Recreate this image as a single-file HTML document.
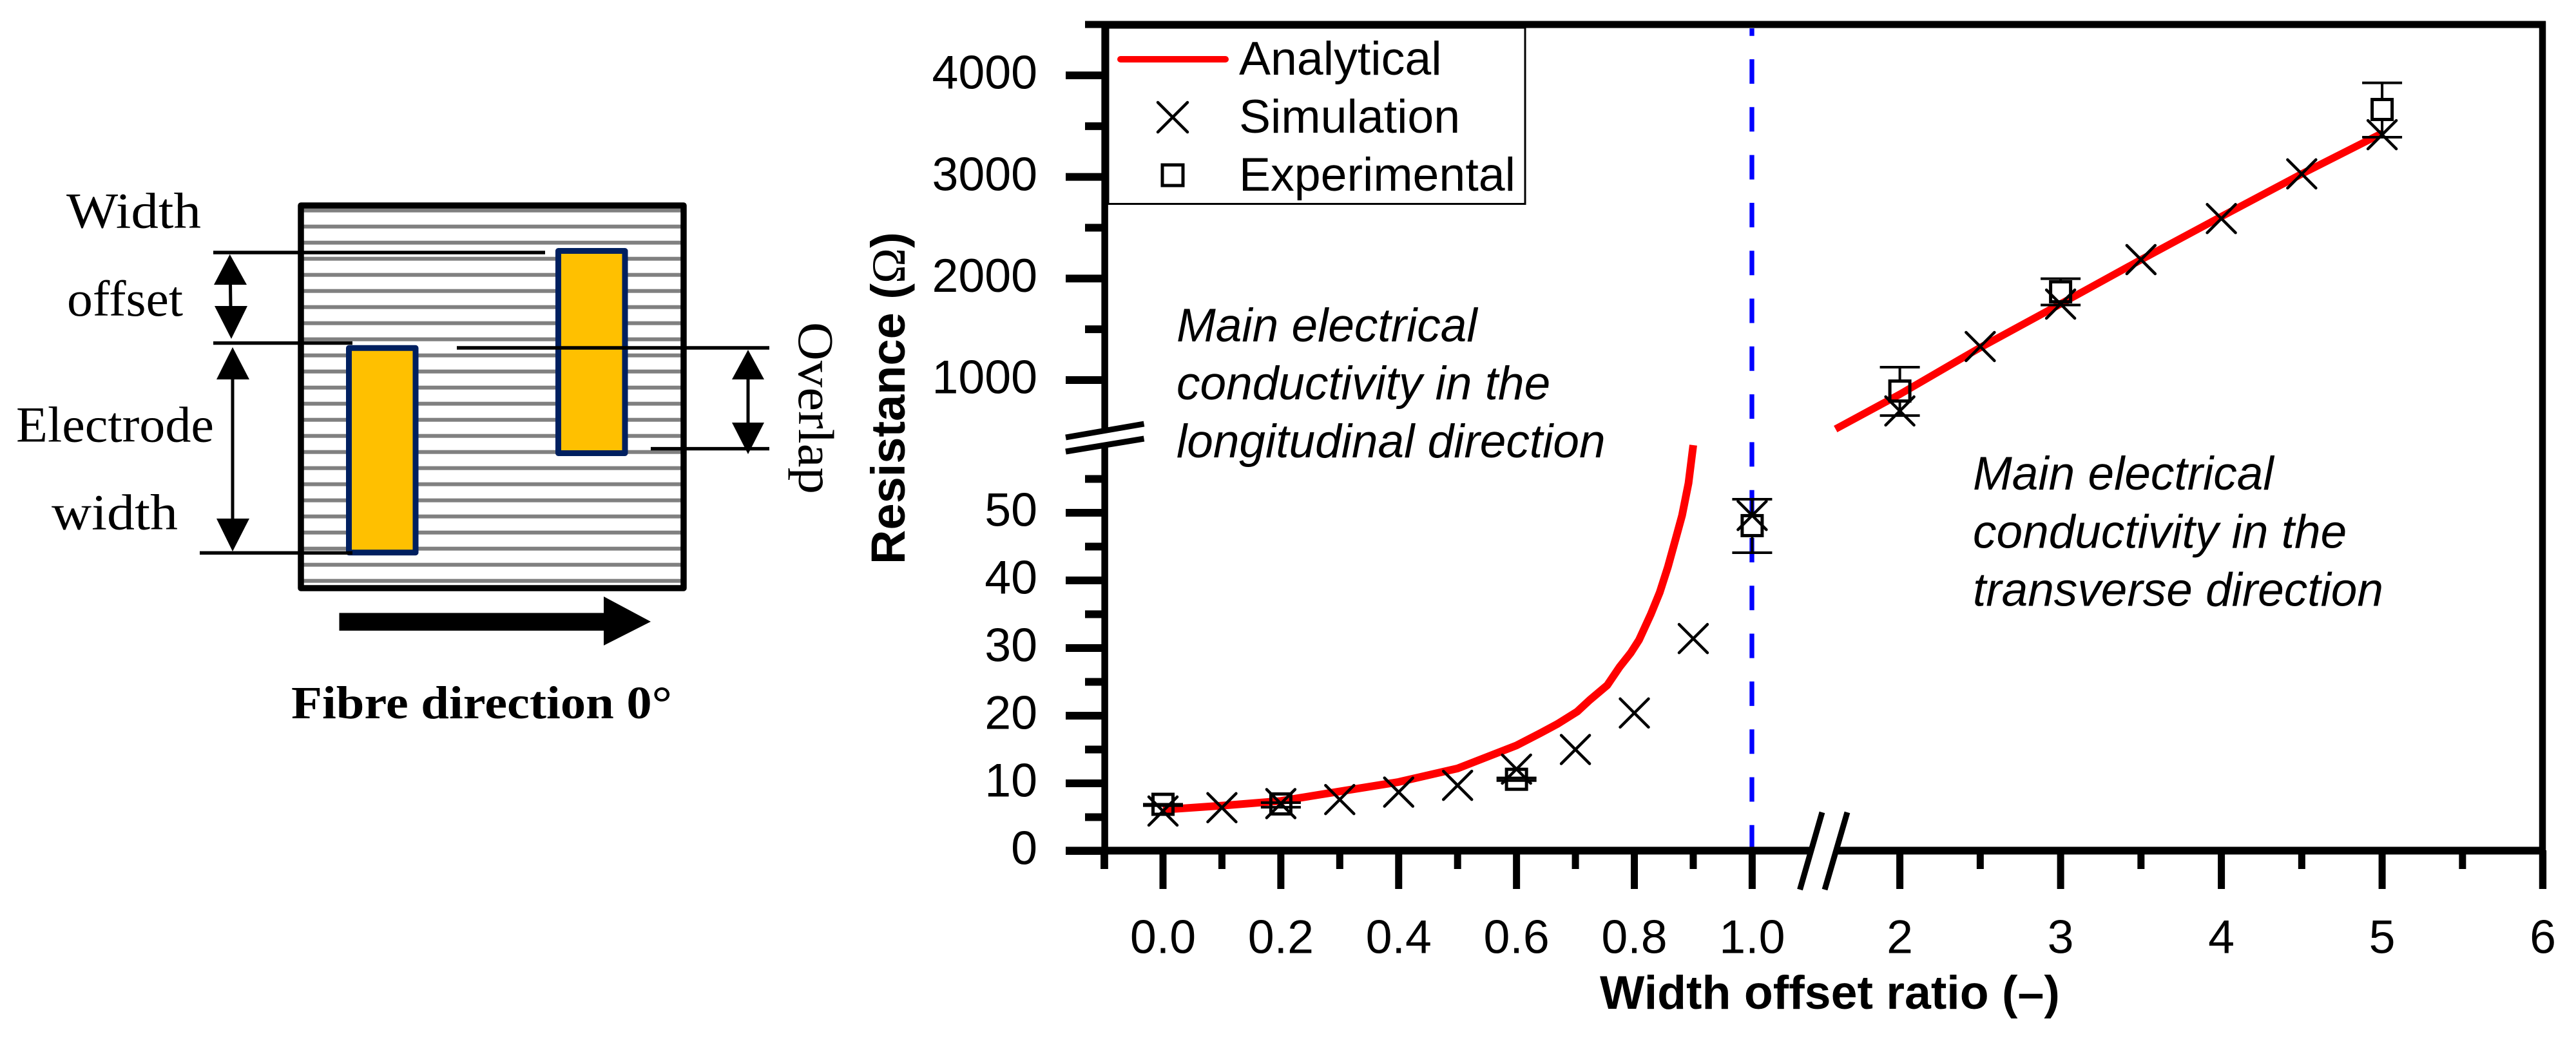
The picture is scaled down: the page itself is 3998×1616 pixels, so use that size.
<!DOCTYPE html>
<html lang="en">
<head>
<meta charset="utf-8">
<title>Resistance versus width offset ratio</title>
<style>
html,body{margin:0;padding:0;background:#fff;width:3998px;height:1616px;overflow:hidden}
svg{display:block}
text{font-family:"Liberation Sans",Arial,sans-serif;fill:#000}
.serif{font-family:"Liberation Serif","Times New Roman",serif}
</style>
</head>
<body>
<svg id="figure" xmlns="http://www.w3.org/2000/svg" width="3998" height="1616" viewBox="0 0 3998 1616">
  <rect x="0" y="0" width="3998" height="1616" fill="#fff"/>

  <g id="diagram">
    <g id="stripes"></g>
    <rect x="467" y="319" width="594" height="594" fill="none" stroke="#000" stroke-width="9.5" stroke-linejoin="round"/>
    <rect x="541.5" y="540.3" width="103.5" height="317.4" fill="#FFC000" stroke="#002060" stroke-width="9" stroke-linejoin="round"/>
    <rect x="866.5" y="389.5" width="103.5" height="314" fill="#FFC000" stroke="#002060" stroke-width="9" stroke-linejoin="round"/>
    <g stroke="#000" stroke-width="5.4">
      <line x1="331" y1="392" x2="846" y2="392"/>
      <line x1="331" y1="532.6" x2="547" y2="532.6"/>
      <line x1="310" y1="858.3" x2="547" y2="858.3"/>
      <line x1="709" y1="540" x2="1194" y2="540"/>
      <line x1="1010" y1="696.6" x2="1194" y2="696.6"/>
    </g>
    <g>
      <line x1="357.5" y1="440" x2="358" y2="478" stroke="#000" stroke-width="5"/>
      <polygon points="356.7,394.8 332,442 383,442"/>
      <polygon points="359,526 333,475 384,475"/>
    </g>
    <g>
      <line x1="361" y1="587" x2="361" y2="807" stroke="#000" stroke-width="5"/>
      <polygon points="361,539 336,589 387,589"/>
      <polygon points="361,856 336,805 387,805"/>
    </g>
    <g>
      <line x1="1161" y1="587" x2="1161" y2="658" stroke="#000" stroke-width="5"/>
      <polygon points="1161,543 1136,589 1186,589"/>
      <polygon points="1161,705 1136,656 1186,656"/>
    </g>
    <polygon points="526.5,951.5 937,951.5 937,926 1010,965 937,1002 937,979 526.5,979"/>
    <text class="serif" x="103" y="353.5" font-size="78" textLength="209" lengthAdjust="spacingAndGlyphs">Width</text>
    <text class="serif" x="104" y="490" font-size="78" textLength="180" lengthAdjust="spacingAndGlyphs">offset</text>
    <text class="serif" x="25" y="685.7" font-size="78" textLength="307" lengthAdjust="spacingAndGlyphs">Electrode</text>
    <text class="serif" x="80" y="821.5" font-size="78" textLength="196" lengthAdjust="spacingAndGlyphs">width</text>
    <text class="serif" transform="translate(1240,500) rotate(90)" font-size="78" textLength="267" lengthAdjust="spacingAndGlyphs">Overlap</text>
    <text class="serif" x="452" y="1115" font-size="72" font-weight="bold" textLength="591" lengthAdjust="spacingAndGlyphs">Fibre direction 0°</text>
  </g>

  <g id="chart">
    <line id="ref-line" x1="2719" y1="44" x2="2719" y2="1320" stroke="#0000ff" stroke-width="7.3" stroke-dasharray="38 36.3" stroke-dashoffset="26.3"/>
    <g id="series-analytical"></g>
    <g id="series-experimental"></g>
    <g id="series-simulation"></g>
    <g id="axes">
      <line x1="1684" y1="38" x2="3951" y2="38" stroke="#000" stroke-width="11"/>
      <line x1="3946" y1="33" x2="3946" y2="1380" stroke="#000" stroke-width="10.5"/>
      <line x1="1714.6" y1="33" x2="1714.6" y2="1349" stroke="#000" stroke-width="10.5"/>
      <line x1="1654" y1="1320.5" x2="3951" y2="1320.5" stroke="#000" stroke-width="12"/>
    </g>
    <g id="y-ticks"></g>
    <g id="x-ticks"></g>
    <g>
      <polygon points="1654,679 1775.5,658 1775.5,681 1654,701" fill="#fff"/>
      <line x1="1654" y1="679" x2="1775.5" y2="658" stroke="#000" stroke-width="9"/>
      <line x1="1654" y1="701" x2="1775.5" y2="681" stroke="#000" stroke-width="9"/>
    </g>
    <g>
      <polygon points="2793.5,1381 2828,1261 2867,1261 2832,1381" fill="#fff"/>
      <line x1="2793.5" y1="1381" x2="2828" y2="1261" stroke="#000" stroke-width="9"/>
      <line x1="2832" y1="1381" x2="2867" y2="1261" stroke="#000" stroke-width="9"/>
    </g>
    <text transform="translate(1404,876) rotate(-90)" font-size="74" font-weight="bold">Resistance (<tspan class="serif" font-weight="normal">Ω</tspan>)</text>
    <text x="2483" y="1566" font-size="73.5" font-weight="bold">Width offset ratio (–)</text>

    <g font-size="73" font-style="italic">
      <text x="1826" y="530">Main electrical</text>
      <text x="1826" y="620">conductivity in the</text>
      <text x="1826" y="710">longitudinal direction</text>
    </g>
    <g font-size="73" font-style="italic">
      <text x="3062" y="760">Main electrical</text>
      <text x="3062" y="850.5">conductivity in the</text>
      <text x="3062" y="940.5">transverse direction</text>
    </g>

    <g>
      <rect x="1720" y="43" width="647" height="273.5" fill="#fff" stroke="#000" stroke-width="3"/>
      <line x1="1739" y1="92" x2="1902" y2="92" stroke="#ff0000" stroke-width="10" stroke-linecap="round"/>
      <text x="1923" y="116" font-size="73.5">Analytical</text>
      <path d="M1797 159L1843 205M1843 159L1797 205" stroke="#000" stroke-width="4.5" stroke-linecap="round" fill="none"/>
      <text x="1923" y="206" font-size="73.5">Simulation</text>
      <rect x="1804" y="256" width="32" height="32" fill="none" stroke="#000" stroke-width="5"/>
      <text x="1923" y="296" font-size="73.5">Experimental</text>
    </g>
  </g>
</svg>

<script>
// Chart data
const analyticalLowX = [0, 0.1, 0.2, 0.3, 0.4, 0.5, 0.6, 0.64, 0.67, 0.703, 0.724, 0.754, 0.775, 0.794, 0.808, 0.828, 0.843, 0.857, 0.87, 0.881, 0.892, 0.9];
const analyticalLowY = [6.1, 6.7, 7.4, 8.8, 10.2, 12.2, 15.6, 17.4, 18.8, 20.6, 22.3, 24.5, 27.2, 29.3, 31.2, 35, 38.2, 42, 46.1, 49.6, 54.4, 60];
const analyticalHighX = [1.6, 2, 2.5, 3, 3.5, 4, 4.5, 5];
const analyticalHighY = [518, 860, 1320, 1750, 2185, 2610, 3030, 3430];
const simulationX = [0, 0.1, 0.2, 0.3, 0.4, 0.5, 0.6, 0.7, 0.8, 0.9, 1.0, 2, 2.5, 3, 3.5, 4, 4.5, 5];
const simulationY = [5.9, 6.4, 7, 7.6, 8.7, 9.7, 12.1, 15, 20.4, 31.4, 49.6, 696, 1330, 1748, 2186, 2590, 3030, 3416];
const experimentalX = [0, 0.2, 0.6, 1.0, 2, 3, 5];
const experimentalY = [6.9, 6.95, 10.6, 48.1, 892, 1869, 3664];
const experimentalLow = [6.7, 6.47, 10.4, 44.1, 650, 1739, 3391];
const experimentalHigh = [6.9, 7.14, 10.8, 52, 1127, 1998, 3926];
const yMajorLow = [0, 10, 20, 30, 40, 50];
const yMinorLow = [5, 15, 25, 35, 45, 55];
const yMajorHigh = [1000, 2000, 3000, 4000];
const yMinorHigh = [1500, 2500, 3500];
const xMajorLow = [0, 0.2, 0.4, 0.6, 0.8, 1.0];
const xMinorLow = [-0.1, 0.1, 0.3, 0.5, 0.7, 0.9];
const xMajorHigh = [2, 3, 4, 5, 6];
const xMinorHigh = [2.5, 3.5, 4.5, 5.5];

// Broken axis functions
function xPos(v) {
  return v <= 1.2 ? 1805 + v * 914.4 : 2948.6 + (v - 2) * 249.5;
}
function yPos(v) {
  return v <= 100 ? 1321 - v * 10.5 : 590 - (v - 1000) * 0.15767;
}

const NS = 'http://www.w3.org/2000/svg';
function make(parent, tag, attrs) {
  const el = document.createElementNS(NS, tag);
  for (const k in attrs) el.setAttribute(k, attrs[k]);
  parent.appendChild(el);
  return el;
}

// Diagram stripes
const stripeLayer = document.getElementById('stripes');
for (let i = 0; i < 24; i++) {
  const stripe = make(stripeLayer, 'rect', {x: 467, y: 323.7 + i * 25, width: 594, height: 6, fill: '#808080'});
  
  
}

// Y ticks
const yTickLayer = document.getElementById('y-ticks');
yMajorLow.concat(yMajorHigh).forEach(function (v) {
  const y = yPos(v);
  const tick = make(yTickLayer, 'line', {x1: 1654, x2: 1715, y1: y, y2: y, stroke: '#000', 'stroke-width': 12});
  
  
  const label = make(yTickLayer, 'text', {x: 1610, y: y + 20.6, 'font-size': 73.5, 'text-anchor': 'end'});
  label.textContent = String(v);
  
  
});
yMinorLow.concat(yMinorHigh).forEach(function (v) {
  const y = yPos(v);
  const tick = make(yTickLayer, 'line', {x1: 1684, x2: 1715, y1: y, y2: y, stroke: '#000', 'stroke-width': 12});
  
  
});

// X ticks
const xTickLayer = document.getElementById('x-ticks');
xMajorLow.forEach(function (v) {
  const x = xPos(v);
  const tick = make(xTickLayer, 'line', {x1: x, x2: x, y1: 1320, y2: 1380, stroke: '#000', 'stroke-width': 11});
  
  
  const label = make(xTickLayer, 'text', {x: x, y: 1479.5, 'font-size': 73.5, 'text-anchor': 'middle'});
  label.textContent = v.toFixed(1);
  
  
});
xMajorHigh.forEach(function (v) {
  const x = xPos(v);
  const tick = make(xTickLayer, 'line', {x1: x, x2: x, y1: 1320, y2: 1380, stroke: '#000', 'stroke-width': 11});
  
  
  const label = make(xTickLayer, 'text', {x: x, y: 1479.5, 'font-size': 73.5, 'text-anchor': 'middle'});
  label.textContent = String(v);
  
  
});
xMinorLow.concat(xMinorHigh).forEach(function (v) {
  const x = xPos(v);
  const tick = make(xTickLayer, 'line', {x1: x, x2: x, y1: 1320, y2: 1349, stroke: '#000', 'stroke-width': 11});
  
  
});

// Analytical curves
const analyticalLayer = document.getElementById('series-analytical');
const lowPoints = analyticalLowX.map(function (x, i) { return xPos(x) + ',' + yPos(analyticalLowY[i]); }).join(' ');
const lowCurve = make(analyticalLayer, 'polyline', {points: lowPoints, fill: 'none', stroke: '#ff0000', 'stroke-width': 12, 'stroke-linejoin': 'round'});


const highPoints = analyticalHighX.map(function (x, i) { return xPos(x) + ',' + yPos(analyticalHighY[i]); }).join(' ');
const highCurve = make(analyticalLayer, 'polyline', {points: highPoints, fill: 'none', stroke: '#ff0000', 'stroke-width': 11.5, 'stroke-linejoin': 'round'});



// Experimental markers with error bars (stems stop at the square outline)
const experimentalLayer = document.getElementById('series-experimental');
experimentalX.forEach(function (xv, i) {
  const x = xPos(xv);
  const y = yPos(experimentalY[i]);
  const yLow = yPos(experimentalLow[i]);
  const yHigh = yPos(experimentalHigh[i]);
  const half = 15.5;
  let d = 'M' + (x - 31) + ' ' + yHigh + 'H' + (x + 31) + 'M' + (x - 31) + ' ' + yLow + 'H' + (x + 31);
  if (yHigh < y - half) d += 'M' + x + ' ' + yHigh + 'V' + (y - half);
  if (yLow > y + half) d += 'M' + x + ' ' + (y + half) + 'V' + yLow;
  const bar = make(experimentalLayer, 'path', {d: d, fill: 'none', stroke: '#000', 'stroke-width': 4});
  
  
  const square = make(experimentalLayer, 'rect', {x: x - half, y: y - half, width: 2 * half, height: 2 * half, fill: 'none', stroke: '#000', 'stroke-width': 5});
  
  
});

// Simulation markers
const simulationLayer = document.getElementById('series-simulation');
simulationX.forEach(function (xv, i) {
  const x = xPos(xv);
  const y = yPos(simulationY[i]);
  const h = 22;
  const cross = make(simulationLayer, 'path', {
    d: 'M' + (x - h) + ' ' + (y - h) + 'L' + (x + h) + ' ' + (y + h) + 'M' + (x + h) + ' ' + (y - h) + 'L' + (x - h) + ' ' + (y + h),
    fill: 'none', stroke: '#000', 'stroke-width': 4.5, 'stroke-linecap': 'round'
  });
  
  
});
</script>
</body>
</html>
